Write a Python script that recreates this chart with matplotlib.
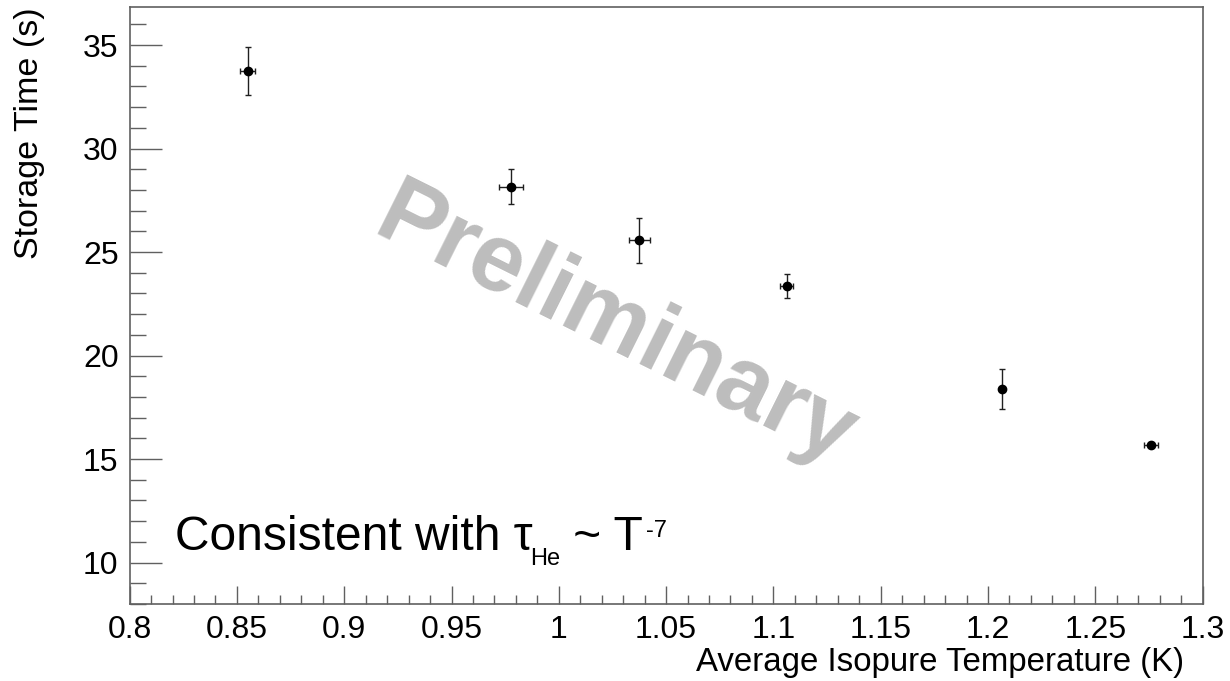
import numpy as np
import matplotlib
matplotlib.use("Agg")
import matplotlib.pyplot as plt
from matplotlib.ticker import MultipleLocator

plt.rcParams['font.family'] = ['Liberation Sans', 'DejaVu Sans']

# --- data ---
temp = [0.8550, 0.9777, 1.0374, 1.1062, 1.2064, 1.2758]
temp_err = [0.0035, 0.0058, 0.0049, 0.0030, 0.0010, 0.0033]
tau = [33.74, 28.15, 25.57, 23.36, 18.37, 15.67]
tau_err = [1.15, 0.85, 1.10, 0.60, 0.97, 0.10]

x_ticks = [0.8, 0.85, 0.9, 0.95, 1.0, 1.05, 1.1, 1.15, 1.2, 1.25, 1.3]
x_labels = ["0.8", "0.85", "0.9", "0.95", "1", "1.05", "1.1", "1.15", "1.2", "1.25", "1.3"]
y_ticks = [10, 15, 20, 25, 30, 35]

frame_col = "#606060"
px = 72 / 100  # points per pixel

fig = plt.figure(figsize=(12.3, 6.81), dpi=100)
ax = fig.add_axes([0.1054, 0.1131, 0.8723, 0.8766])

ax.errorbar(temp, tau, xerr=temp_err, yerr=tau_err, fmt='o', color='black',
            ecolor='#202020', elinewidth=1.0, capsize=2.2, capthick=1.0,
            markersize=6, zorder=5)

ax.set_xlim(0.8, 1.3)
ax.set_ylim(8.0, 36.84)

ax.set_xticks(x_ticks)
ax.set_xticklabels(x_labels)
ax.set_yticks(y_ticks)
ax.xaxis.set_minor_locator(MultipleLocator(0.01))
ax.yaxis.set_minor_locator(MultipleLocator(1))

ax.tick_params(axis='x', which='major', direction='in', length=18 * px, width=1,
               color=frame_col, labelsize=23, pad=8)
ax.tick_params(axis='x', which='minor', direction='in', length=9 * px, width=1,
               color=frame_col)
ax.tick_params(axis='y', which='major', direction='in', length=32 * px, width=1,
               color=frame_col, labelsize=23, pad=8)
ax.tick_params(axis='y', which='minor', direction='in', length=16 * px, width=1,
               color=frame_col)
for s in ax.spines.values():
    s.set_color(frame_col)
    s.set_linewidth(1.2)

# watermark
ax.text(0.453, 0.463, "Preliminary", transform=ax.transAxes, rotation=-26.5,
        fontsize=69, fontweight='bold', color='#bdbdbd', ha='center', va='center',
        rotation_mode='anchor', zorder=1)

# annotation: Consistent with tau_He ~ T^-7
t1 = ax.text(0.0425, 0.0905, "Consistent with τ", transform=ax.transAxes,
             fontsize=34.5, color='black', ha='left', va='baseline')
t2 = ax.annotate("He", xy=(1, 0), xycoords=t1, xytext=(-2, -3.6),
                 textcoords='offset points', fontsize=17, ha='left', va='baseline')
t3 = ax.annotate(" ~ T", xy=(1, 0), xycoords=(t2, t1), xytext=(0, 0),
                 textcoords='offset points', fontsize=34.5, ha='left', va='bottom')
t4 = ax.annotate("-7", xy=(1, 1), xycoords=t3, xytext=(2, -3.3),
                 textcoords='offset points', fontsize=17, ha='left', va='top')

fig.text(0.963, 0.004, "Average Isopure Temperature (K)", fontsize=23.75,
         ha='right', va='bottom')
fig.text(0.011, 0.9897, "Storage Time (s)", fontsize=24.5, rotation=90,
         ha='left', va='top')

fig.savefig("out.png", dpi=100)
